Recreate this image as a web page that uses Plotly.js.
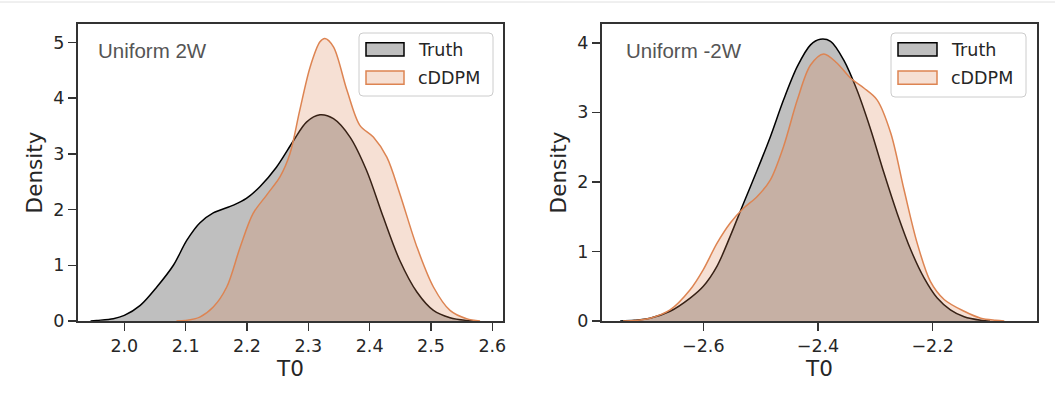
<!DOCTYPE html>
<html>
<head>
<meta charset="utf-8">
<script src="https://cdn.plot.ly/plotly-3.0.1.min.js"></script>
<style>html,body{margin:0;padding:0;background:#fff;}#chart{width:1055px;height:400px;}</style>
</head>
<body>
<div id="chart"></div>
<script>
// ---- Left panel: Uniform 2W ----
const leftTitle = "Uniform 2W";
const leftTruthX = [1.945, 1.955, 1.982, 2.0, 2.026, 2.053, 2.080, 2.102, 2.123, 2.145, 2.178, 2.199, 2.221, 2.248, 2.276, 2.297, 2.319, 2.341, 2.368, 2.395, 2.422, 2.449, 2.477, 2.504, 2.531, 2.558, 2.572];
const leftTruthY = [0.0, 0.01, 0.04, 0.10, 0.28, 0.61, 1.00, 1.45, 1.76, 1.94, 2.08, 2.20, 2.41, 2.76, 3.24, 3.57, 3.70, 3.63, 3.30, 2.70, 1.87, 1.09, 0.52, 0.19, 0.06, 0.01, 0.0];
const leftGenX = [2.085, 2.10, 2.123, 2.145, 2.167, 2.189, 2.210, 2.232, 2.254, 2.270, 2.286, 2.303, 2.319, 2.327, 2.341, 2.363, 2.384, 2.406, 2.428, 2.449, 2.477, 2.504, 2.531, 2.558, 2.58];
const leftGenY = [0.0, 0.01, 0.07, 0.25, 0.61, 1.33, 1.93, 2.26, 2.59, 3.00, 3.78, 4.56, 5.01, 5.07, 4.92, 4.14, 3.51, 3.30, 2.94, 2.29, 1.33, 0.61, 0.19, 0.04, 0.0];
const leftXTicks = [2.0, 2.1, 2.2, 2.3, 2.4, 2.5, 2.6];
const leftYTicks = [0, 1, 2, 3, 4, 5];

// ---- Right panel: Uniform -2W ----
const rightTitle = "Uniform -2W";
const rightTruthX = [-2.745, -2.72, -2.693, -2.658, -2.623, -2.600, -2.576, -2.553, -2.530, -2.506, -2.483, -2.460, -2.436, -2.413, -2.396, -2.378, -2.355, -2.332, -2.308, -2.285, -2.262, -2.238, -2.215, -2.192, -2.169, -2.145, -2.116, -2.10];
const rightTruthY = [0.0, 0.01, 0.04, 0.14, 0.33, 0.50, 0.79, 1.22, 1.69, 2.17, 2.65, 3.18, 3.66, 3.97, 4.05, 4.02, 3.75, 3.32, 2.75, 2.13, 1.55, 1.02, 0.62, 0.33, 0.16, 0.06, 0.01, 0.0];
const rightGenX = [-2.74, -2.715, -2.693, -2.658, -2.623, -2.600, -2.576, -2.553, -2.530, -2.506, -2.483, -2.460, -2.436, -2.413, -2.390, -2.367, -2.343, -2.320, -2.297, -2.273, -2.250, -2.227, -2.204, -2.180, -2.145, -2.116, -2.09, -2.075];
const rightGenY = [0.0, 0.01, 0.04, 0.16, 0.45, 0.74, 1.12, 1.41, 1.62, 1.79, 2.03, 2.51, 3.18, 3.68, 3.84, 3.71, 3.49, 3.35, 3.18, 2.70, 1.89, 1.12, 0.57, 0.31, 0.14, 0.04, 0.01, 0.0];
const rightXTicks = [-2.6, -2.4, -2.2];
const rightYTicks = [0, 1, 2, 3, 4];

const seriesNames = ["Truth", "cDDPM"];
const W = 1055, H = 400;
const px = v => v / W;
const py = v => 1 - v / H;

const truthLine = "#000000", truthFill = "rgba(0,0,0,0.25)";
const genLine = "#dd8452", genFill = "rgba(221,132,82,0.25)";

function curve(x, y, xa, ya, name, line, fill) {
  return {
    type: "scatter", mode: "lines", x: x, y: y, xaxis: xa, yaxis: ya, name: name,
    line: {color: line, width: 1.5, shape: "spline", smoothing: 0.9},
    fill: "tozeroy", fillcolor: fill, showlegend: false, hoverinfo: "skip"
  };
}

const data = [
  curve(leftTruthX, leftTruthY, "x", "y", seriesNames[0], truthLine, truthFill),
  curve(leftGenX, leftGenY, "x", "y", seriesNames[1], genLine, genFill),
  curve(rightTruthX, rightTruthY, "x2", "y2", seriesNames[0], truthLine, truthFill),
  curve(rightGenX, rightGenY, "x2", "y2", seriesNames[1], genLine, genFill)
];

const tickFont = {family: "DejaVu Sans", size: 17.5, color: "#262626"};
const titleFont = {family: "DejaVu Sans", size: 21.5, color: "#262626"};
function xaxis(domain, range, ticks, anchor) {
  return {
    domain: domain, range: range, anchor: anchor, tickmode: "array", tickvals: ticks, tickformat: ".1f",
    ticks: "outside", ticklen: 8, tickwidth: 1.5, tickcolor: "#333",
    showline: true, linecolor: "#333", linewidth: 2, mirror: true,
    showgrid: false, zeroline: false, tickfont: tickFont, automargin: false,
    title: {text: "T0", font: titleFont, standoff: 3}
  };
}
function yaxis(domain, range, ticks, anchor) {
  return {
    domain: domain, range: range, anchor: anchor, tickmode: "array", tickvals: ticks,
    ticks: "outside", ticklen: 8, tickwidth: 1.5, tickcolor: "#333",
    showline: true, linecolor: "#333", linewidth: 2, mirror: true,
    showgrid: false, zeroline: false, tickfont: tickFont, automargin: false,
    title: {text: "Density", font: titleFont, standoff: 5}
  };
}

const yDom = [py(321), py(24)];

function roundRect(x0, y0, x1, y1, r) {
  const X = v => px(v), Y = v => py(v);
  const rx = r / W, ry = r / H;
  return `M ${X(x0)+rx},${Y(y0)} L ${X(x1)-rx},${Y(y0)} Q ${X(x1)},${Y(y0)} ${X(x1)},${Y(y0)-ry} ` +
         `L ${X(x1)},${Y(y1)+ry} Q ${X(x1)},${Y(y1)} ${X(x1)-rx},${Y(y1)} ` +
         `L ${X(x0)+rx},${Y(y1)} Q ${X(x0)},${Y(y1)} ${X(x0)},${Y(y1)+ry} ` +
         `L ${X(x0)},${Y(y0)-ry} Q ${X(x0)},${Y(y0)} ${X(x0)+rx},${Y(y0)} Z`;
}

function legendParts(bx0, bx1, by0, by1, patchX0, patchX1, textX) {
  const shapes = [
    {type: "path", xref: "paper", yref: "paper", path: roundRect(bx0, by0, bx1, by1, 4),
     fillcolor: "rgba(255,255,255,0.8)", line: {color: "#cccccc", width: 1}},
    {type: "rect", xref: "paper", yref: "paper", x0: px(patchX0), x1: px(patchX1), y0: py(56), y1: py(42.7),
     fillcolor: truthFill, line: {color: truthLine, width: 1.5}},
    {type: "rect", xref: "paper", yref: "paper", x0: px(patchX0), x1: px(patchX1), y0: py(84.3), y1: py(71),
     fillcolor: genFill, line: {color: genLine, width: 1.5}}
  ];
  const anns = [
    {xref: "paper", yref: "paper", x: px(textX), y: py(49.5), xanchor: "left", yanchor: "middle",
     text: seriesNames[0], showarrow: false, font: {family: "DejaVu Sans", size: 17.5, color: "#262626"}},
    {xref: "paper", yref: "paper", x: px(textX), y: py(78), xanchor: "left", yanchor: "middle",
     text: seriesNames[1], showarrow: false, font: {family: "DejaVu Sans", size: 17.5, color: "#262626"}}
  ];
  return {shapes, anns};
}

const legL = legendParts(359, 493, 33, 96, 366, 404, 416);
const legR = legendParts(891, 1026, 33, 97, 898, 937, 949);

const layout = {
  width: W, height: H, margin: {l: 0, r: 0, t: 0, b: 0},
  paper_bgcolor: "#ffffff", plot_bgcolor: "#ffffff", showlegend: false,
  xaxis: xaxis([px(78), px(503)], [1.9245, 2.6174], leftXTicks, "y"),
  yaxis: yaxis(yDom, [0, 5.33], leftYTicks, "x"),
  xaxis2: xaxis([px(602), px(1037)], [-2.7767, -2.018], rightXTicks, "y2"),
  yaxis2: yaxis(yDom, [0, 4.27], rightYTicks, "x2"),
  shapes: [
    {type: "line", xref: "paper", yref: "paper", x0: 0, x1: 1, y0: py(2), y1: py(2), line: {color: "#e0e0e0", width: 1}}
  ].concat(legL.shapes, legR.shapes),
  annotations: [
    {xref: "paper", yref: "paper", x: px(96), y: py(50), xanchor: "left", yanchor: "middle",
     text: leftTitle, showarrow: false, font: {family: "Liberation Sans", size: 20.5, color: "#555555"}},
    {xref: "paper", yref: "paper", x: px(624), y: py(50), xanchor: "left", yanchor: "middle",
     text: rightTitle, showarrow: false, font: {family: "Liberation Sans", size: 20.5, color: "#555555"}}
  ].concat(legL.anns, legR.anns)
};

Plotly.newPlot("chart", data, layout, {staticPlot: true, displayModeBar: false});
</script>
</body>
</html>
